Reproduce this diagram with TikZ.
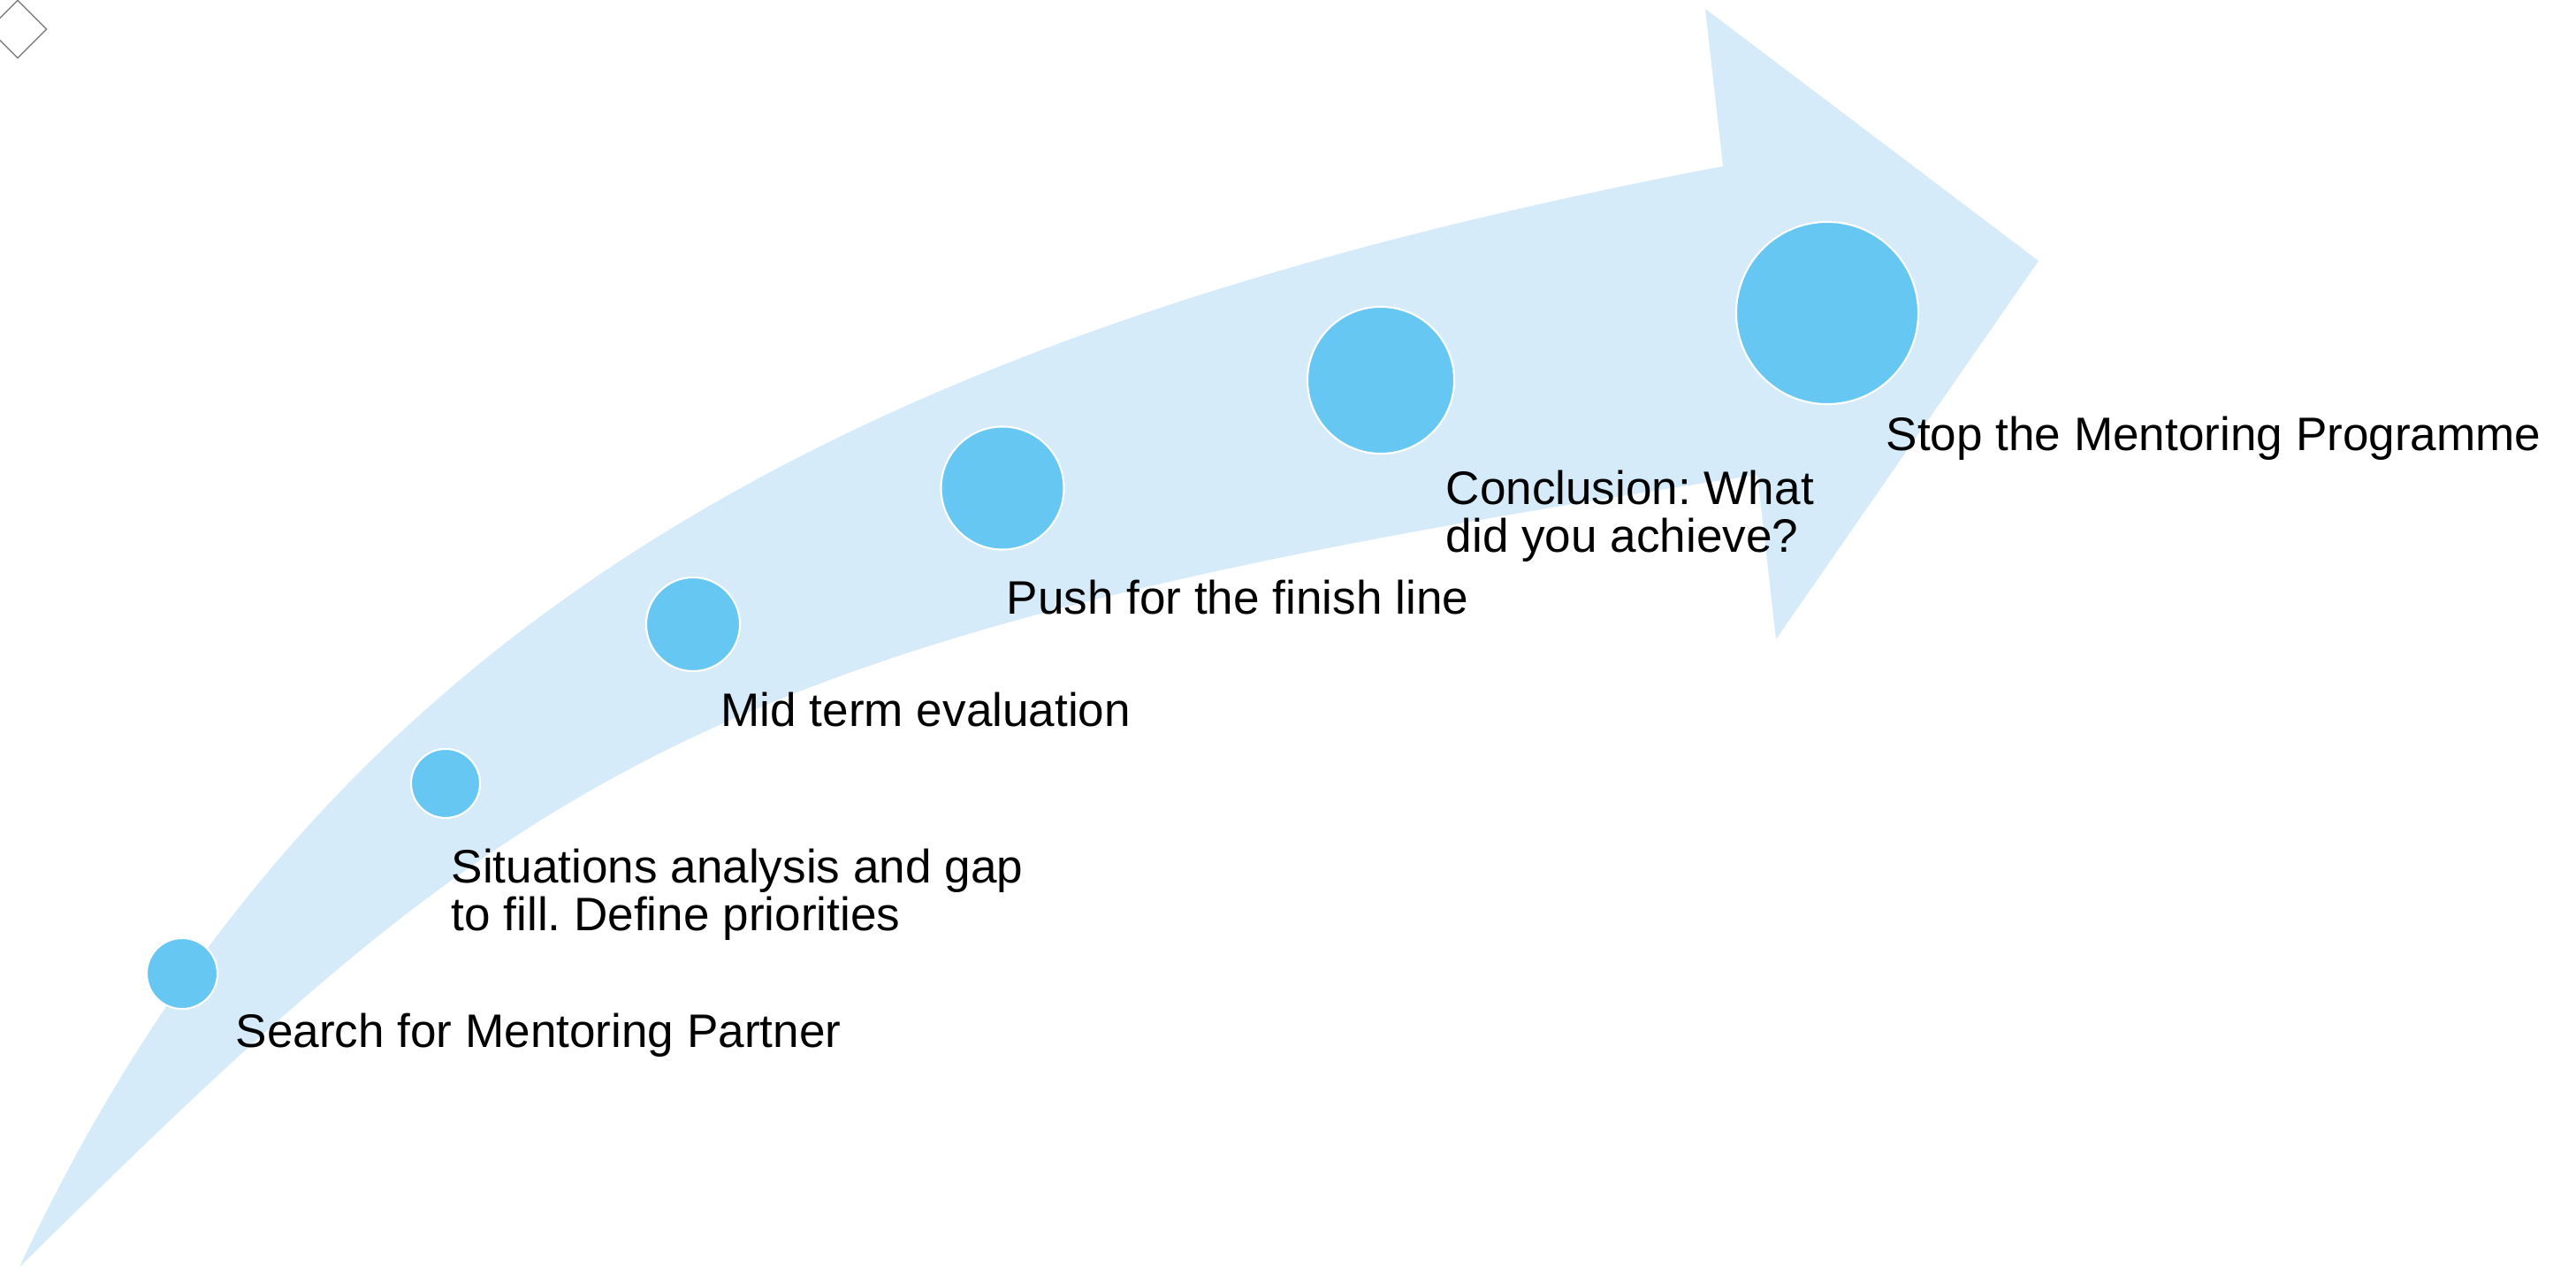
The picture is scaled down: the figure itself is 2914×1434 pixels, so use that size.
\documentclass[tikz,border=0pt]{standalone}
\usepackage{fontspec}
\setmainfont{Liberation Sans}
\usepackage{xcolor}
\usetikzlibrary{shapes.geometric,positioning}
\definecolor{arrowblue}{RGB}{213,235,250}
\definecolor{dotblue}{RGB}{102,199,242}
\frenchspacing

\begin{document}
\begin{tikzpicture}[
    x=0.01cm, y=-0.01cm,
    milestone/.style={circle, fill=dotblue, draw=white, line width=0.6pt, inner sep=0pt},
    stepnote/.style={anchor=base west, align=left, inner sep=0pt, font=\fontsize{15.1}{15.6}\selectfont},
    marker/.style={diamond, draw=gray, line width=0.4pt, inner sep=0pt, minimum width=0.66cm, minimum height=0.66cm}
]
\useasboundingbox (0,0) rectangle (2914,1434);

% Curved arrow (background)
\fill[arrowblue] (22,1433) .. controls (358,713) and (949,378) .. (1949,188)
    -- (1929,10) -- (2306,295) -- (2009,723) -- (1988,537)
    .. controls (790,719) and (598,863) .. (22,1433) -- cycle;

% Small marker (top left corner)
\node[marker] (corner) at (20,33) {};

% Milestones along the arrow
\node[milestone, minimum size=0.80cm] (search) at (206,1101) {};
\node[milestone, minimum size=0.78cm] (gap) at (504,886) {};
\node[milestone, minimum size=1.06cm] (midterm) at (784,706) {};
\node[milestone, minimum size=1.39cm] (push) at (1134,552) {};
\node[milestone, minimum size=1.66cm] (conclusion) at (1562,430) {};
\node[milestone, minimum size=2.06cm] (stop) at (2067,354) {};

% Labels (base = last line)
\node[stepnote] (search_txt) at (266,1184) {Search for Mentoring Partner};
\node[stepnote] (gap_txt) at (510,1053) {Situations analysis and gap\\to fill. Define priorities};
\node[stepnote] (midterm_txt) at (815,822) {Mid term evaluation};
\node[stepnote] (push_txt) at (1138,695) {Push for the finish line};
\node[stepnote] (conclusion_txt) at (1635,625) {Conclusion: What\\did you achieve?};
\node[stepnote] (stop_txt) at (2133,510) {Stop the Mentoring Programme};

\end{tikzpicture}
\end{document}
